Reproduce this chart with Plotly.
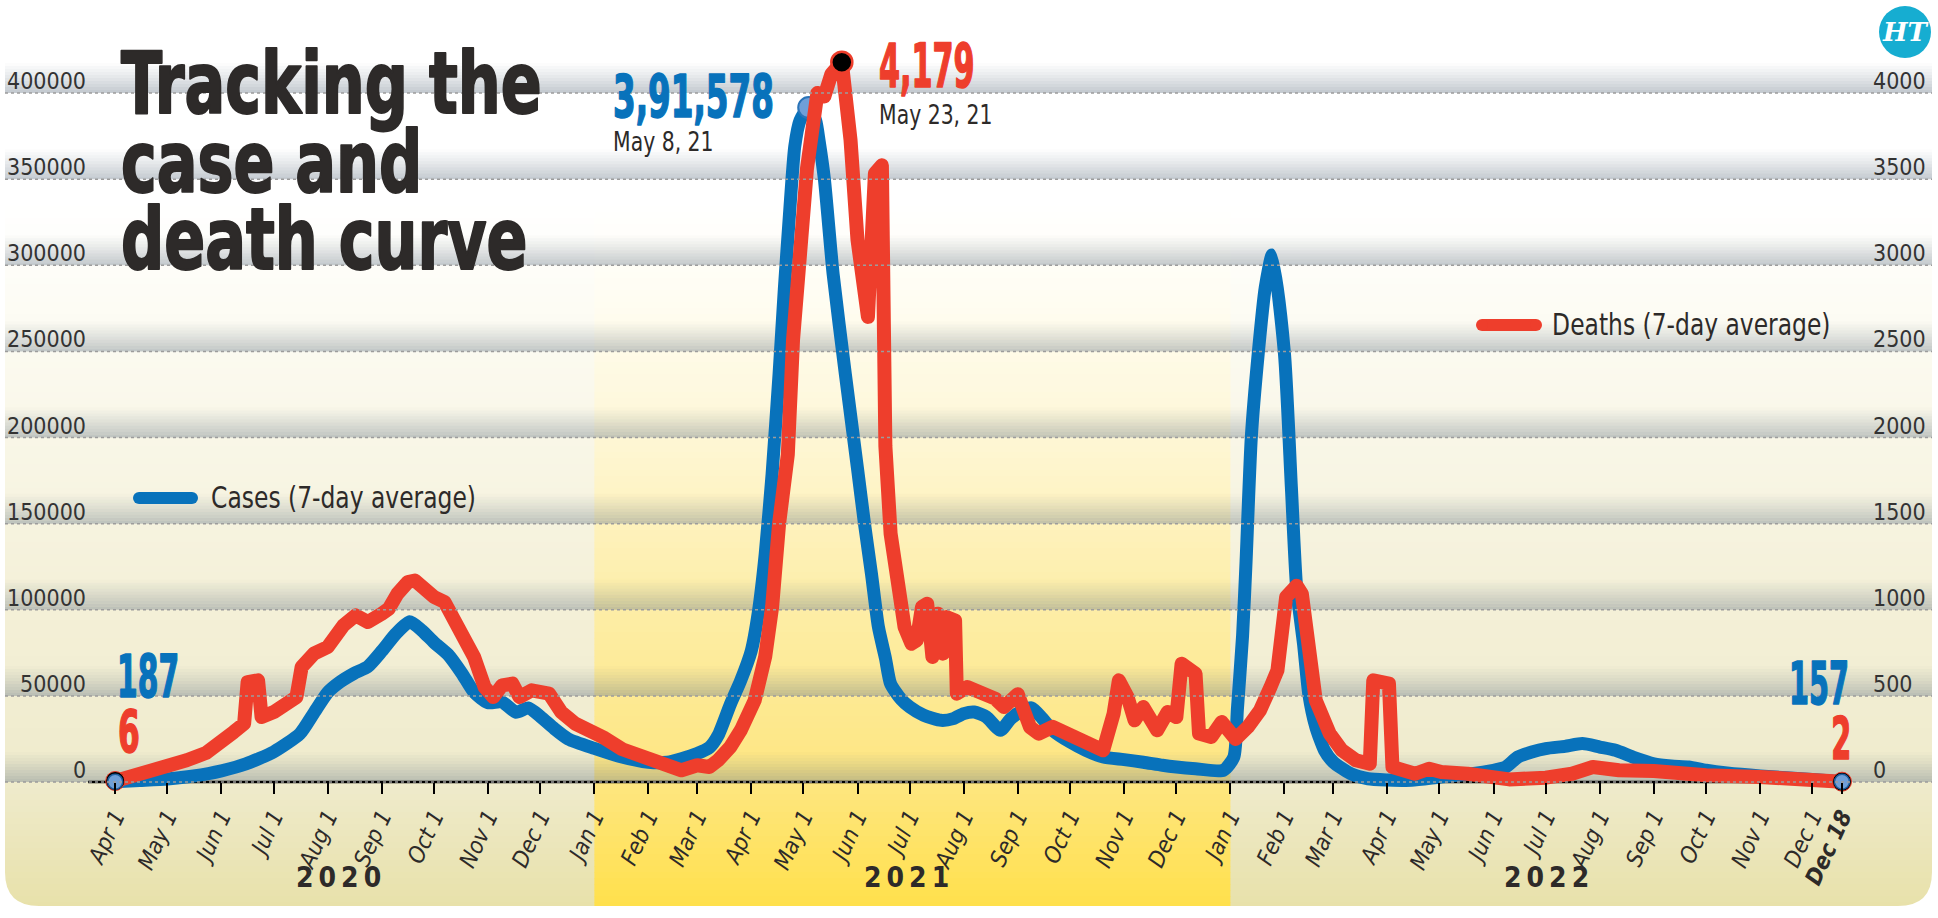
import json
import pandas as pd
import plotly.graph_objects as go

# ---------------- data ----------------
CASE_DATES = [
    "2020-04-01", "2020-04-15", "2020-05-01", "2020-05-16", "2020-06-01", "2020-06-15",
    "2020-07-01", "2020-07-16", "2020-07-24", "2020-08-01", "2020-08-08", "2020-08-16",
    "2020-08-24", "2020-09-01", "2020-09-09", "2020-09-17", "2020-09-24", "2020-10-01",
    "2020-10-09", "2020-10-17", "2020-10-24", "2020-11-01", "2020-11-09", "2020-11-17",
    "2020-11-24", "2020-12-01", "2020-12-09", "2020-12-17", "2021-01-01", "2021-01-15",
    "2021-02-01", "2021-02-12", "2021-02-20", "2021-03-01", "2021-03-08", "2021-03-13",
    "2021-03-20", "2021-03-26", "2021-04-01", "2021-04-05", "2021-04-09", "2021-04-13",
    "2021-04-17", "2021-04-20", "2021-04-23", "2021-04-26", "2021-04-29", "2021-05-04",
    "2021-05-08", "2021-05-10", "2021-05-13", "2021-05-18", "2021-05-25", "2021-06-01",
    "2021-06-05", "2021-06-09", "2021-06-13", "2021-06-17", "2021-06-20", "2021-06-26",
    "2021-07-01", "2021-07-09", "2021-07-19", "2021-07-26", "2021-08-01", "2021-08-07",
    "2021-08-14", "2021-08-22", "2021-08-28", "2021-09-04", "2021-09-09", "2021-09-15",
    "2021-09-21", "2021-10-01", "2021-10-10", "2021-10-20", "2021-11-01", "2021-11-12",
    "2021-11-23", "2021-12-01", "2021-12-12", "2021-12-28", "2022-01-03", "2022-01-05",
    "2022-01-08", "2022-01-10", "2022-01-13", "2022-01-17", "2022-01-21", "2022-01-25",
    "2022-02-01", "2022-02-05", "2022-02-08", "2022-02-12", "2022-02-15", "2022-02-19",
    "2022-02-24", "2022-03-01", "2022-03-11", "2022-03-21", "2022-04-01", "2022-04-15",
    "2022-05-01", "2022-05-17", "2022-06-01", "2022-06-08", "2022-06-15", "2022-06-23",
    "2022-07-01", "2022-07-12", "2022-07-22", "2022-08-01", "2022-08-10", "2022-08-20",
    "2022-09-01", "2022-09-11", "2022-09-21", "2022-10-01", "2022-10-13", "2022-11-01",
    "2022-12-01", "2022-12-18",
]
CASES = [
    187, 900, 1800, 3500, 6500, 10500,
    17500, 28000, 40000, 52000, 58000, 63000,
    67000, 76000, 86000, 93000, 88000, 81000,
    74000, 63000, 52000, 46000, 46500, 40500,
    43000, 38000, 31000, 25000, 19500, 15000,
    11500, 11500, 13500, 16500, 20000, 27000,
    45000, 59000, 76000, 98000, 132000, 179000,
    237000, 286000, 330000, 369000, 384000, 391578,
    384000, 372000, 350000, 295000, 237000, 182000,
    150000, 121000, 90000, 72000, 57000, 48000,
    43500, 38700, 35800, 36800, 39700, 40600,
    37700, 30000, 36800, 41600, 43000, 37000,
    30000, 23200, 18400, 14500, 13000, 11500,
    9700, 8700, 7700, 6800, 14500, 42000,
    85000, 128000, 200000, 249000, 287000, 306000,
    249000, 171000, 113000, 80000, 51000, 32000,
    18400, 11600, 4800, 1900, 1200, 1000,
    2800, 4500, 6800, 8700, 14500, 17400,
    19400, 20700, 22300, 20300, 18400, 14500,
    10600, 9300, 8700, 6800, 5200, 3500,
    1500, 157,
]

DEATH_DATES = [
    "2020-04-01", "2020-04-15", "2020-05-01", "2020-05-12", "2020-05-23", "2020-06-01",
    "2020-06-08", "2020-06-14", "2020-06-16", "2020-06-22", "2020-06-24", "2020-07-01",
    "2020-07-08", "2020-07-14", "2020-07-17", "2020-07-24", "2020-08-01", "2020-08-05",
    "2020-08-10", "2020-08-17", "2020-08-24", "2020-09-01", "2020-09-05", "2020-09-10",
    "2020-09-16", "2020-09-20", "2020-09-25", "2020-10-01", "2020-10-07", "2020-10-13",
    "2020-10-19", "2020-10-24", "2020-10-30", "2020-11-04", "2020-11-09", "2020-11-15",
    "2020-11-19", "2020-11-26", "2020-12-06", "2020-12-13", "2020-12-21", "2021-01-01",
    "2021-01-06", "2021-01-17", "2021-02-01", "2021-02-12", "2021-02-20", "2021-03-01",
    "2021-03-08", "2021-03-13", "2021-03-20", "2021-03-26", "2021-04-03", "2021-04-09",
    "2021-04-13", "2021-04-17", "2021-04-22", "2021-04-25", "2021-04-29", "2021-05-03",
    "2021-05-09", "2021-05-13", "2021-05-17", "2021-05-23", "2021-05-28", "2021-06-01",
    "2021-06-07", "2021-06-11", "2021-06-15", "2021-06-17", "2021-06-20", "2021-06-24",
    "2021-06-28", "2021-07-02", "2021-07-05", "2021-07-08", "2021-07-11", "2021-07-14",
    "2021-07-17", "2021-07-20", "2021-07-22", "2021-07-27", "2021-07-28", "2021-08-03",
    "2021-08-11", "2021-08-19", "2021-08-24", "2021-09-01", "2021-09-08", "2021-09-13",
    "2021-09-21", "2021-10-01", "2021-10-10", "2021-10-20", "2021-10-26", "2021-10-29",
    "2021-11-03", "2021-11-07", "2021-11-12", "2021-11-20", "2021-11-26", "2021-12-01",
    "2021-12-04", "2021-12-08", "2021-12-12", "2021-12-14", "2021-12-21", "2021-12-27",
    "2022-01-04", "2022-01-11", "2022-01-18", "2022-01-24", "2022-01-28", "2022-02-02",
    "2022-02-08", "2022-02-11", "2022-02-14", "2022-02-19", "2022-02-27", "2022-03-06",
    "2022-03-14", "2022-03-22", "2022-03-24", "2022-04-02", "2022-04-04", "2022-04-17",
    "2022-04-25", "2022-05-02", "2022-05-17", "2022-06-01", "2022-06-10", "2022-07-01",
    "2022-07-16", "2022-07-28", "2022-08-01", "2022-08-12", "2022-09-01", "2022-09-21",
    "2022-10-01", "2022-11-01", "2022-12-01", "2022-12-18",
]
DEATHS = [
    6, 45, 77, 126, 168, 226,
    290, 339, 580, 590, 377, 406,
    455, 493, 668, 745, 784, 842,
    909, 967, 929, 977, 1006, 1093,
    1161, 1170, 1122, 1074, 1045, 938,
    822, 725, 551, 493, 561, 571,
    493, 532, 513, 406, 339, 290,
    260, 190, 135, 77, 68, 97,
    87, 126, 203, 300, 474, 726,
    1016, 1500, 1900, 2566, 3147, 3560,
    4000, 3980, 4110, 4179, 3727, 3147,
    2700, 3534, 3580, 1950, 1442, 1171,
    900, 803, 822, 1016, 1035, 726,
    977, 745, 958, 938, 513, 551,
    513, 484, 435, 510, 319, 281,
    320, 271, 242, 184, 397, 590,
    493, 358, 435, 300, 406, 377,
    687, 648, 629, 281, 261, 348,
    250, 319, 416, 551, 648, 1074,
    1140, 1093, 803, 474, 281, 184,
    126, 106, 590, 571, 87, 48,
    77, 58, 48, 35, 15, 25,
    48, 87, 77, 68, 64, 39,
    39, 29, 10, 2,
]

CASE_TICKS = [0, 50000, 100000, 150000, 200000, 250000, 300000, 350000, 400000]
DEATH_TICKS = [0, 500, 1000, 1500, 2000, 2500, 3000, 3500, 4000]
MONTH_TICKS = list(pd.date_range("2020-04-01", "2022-12-01", freq="MS").strftime("%Y-%m-%d"))
MONTH_LABELS = [pd.Timestamp(d).strftime("%b") + " 1" for d in MONTH_TICKS]
LAST_TICK_LABEL = "<b>Dec 18</b>"
YEARS = ["2020", "2021", "2022"]
TITLE_LINES = ["Tracking the", "case and", "death curve"]
PEAK_DATE_LABELS = ["May 8, 21", "May 23, 21"]
LEGEND_CASES = "Cases (7-day average)"
LEGEND_DEATHS = "Deaths (7-day average)"

# ---------------- styling ----------------
W, H = 1938, 918
BLUE = "#0872bb"
LIGHT_BLUE = "#6f9fd8"
RED = "#ee3e2c"
INK = "#2d2a29"
COND = "DejaVu Sans Condensed, DejaVu Sans, sans-serif"
DESC = 0.236  # DejaVu descent (em)


def PX(x):
    return x / W


def PY(y):
    return 1 - y / H


def inr(n):
    s = str(int(n))
    if len(s) <= 3:
        return s
    last3, rest = s[-3:], s[:-3]
    groups = []
    while len(rest) > 2:
        groups.insert(0, rest[-2:])
        rest = rest[:-2]
    if rest:
        groups.insert(0, rest)
    return ",".join(groups) + "," + last3


def mix(stops, y):
    for (y0, c0), (y1, c1) in zip(stops, stops[1:]):
        if y <= y1:
            t = max(0.0, (y - y0) / (y1 - y0))
            return "rgb(%d,%d,%d)" % tuple(round(a + (b - a) * t) for a, b in zip(c0, c1))
    return "rgb(%d,%d,%d)" % stops[-1][1]


# axis geometry (pixels of the reference)
ZERO_PX, TOP_PX, TOP_VAL = 782, 93, 400000
PPV = (ZERO_PX - TOP_PX) / TOP_VAL
y_range = [-(H - ZERO_PX) / PPV, ZERO_PX / PPV]
d_first, d_last = pd.Timestamp(CASE_DATES[0]), pd.Timestamp(CASE_DATES[-1])
X_FIRST_PX, X_LAST_PX = 115.2, 1842.0
ppd = (X_LAST_PX - X_FIRST_PX) / (d_last - d_first).days
x_range = [
    (d_first - pd.Timedelta(days=X_FIRST_PX / ppd)).strftime("%Y-%m-%d %H:%M:%S"),
    (d_last + pd.Timedelta(days=(W - X_LAST_PX) / ppd)).strftime("%Y-%m-%d %H:%M:%S"),
]

fig = go.Figure()

# ---------------- traces ----------------
ci = CASES.index(max(CASES))
di = DEATHS.index(max(DEATHS))

fig.add_trace(go.Scatter(x=CASE_DATES, y=CASES, mode="lines",
                         line=dict(color=BLUE, width=13, shape="spline", smoothing=0.6),
                         hoverinfo="skip"))
fig.add_trace(go.Scatter(x=[CASE_DATES[ci]], y=[CASES[ci]], mode="markers",
                         marker=dict(size=21, color=LIGHT_BLUE, line=dict(color="#2a74b8", width=2)),
                         hoverinfo="skip"))
fig.add_trace(go.Scatter(x=DEATH_DATES, y=DEATHS, yaxis="y2", mode="lines",
                         line=dict(color=RED, width=14), hoverinfo="skip"))
fig.add_trace(go.Scatter(x=[DEATH_DATES[di]], y=[DEATHS[di]], yaxis="y2", mode="markers",
                         marker=dict(size=21, color="black", line=dict(color=RED, width=2.5)),
                         hoverinfo="skip"))
fig.add_trace(go.Scatter(x=[DEATH_DATES[0], DEATH_DATES[-1]], y=[DEATHS[0], DEATHS[-1]], yaxis="y2",
                         mode="markers", marker=dict(size=19, color="black", line=dict(color=RED, width=1)),
                         hoverinfo="skip"))
# cases end points on a third overlay (same scale as y) so they sit on top
fig.add_trace(go.Scatter(x=[CASE_DATES[0], CASE_DATES[-1]], y=[CASES[0], CASES[-1]], yaxis="y3",
                         mode="markers",
                         marker=dict(size=15, color=LIGHT_BLUE, line=dict(color="#1f5f9f", width=1.5)),
                         hoverinfo="skip"))

# ---------------- background shapes ----------------
shapes = []
BEIGE = [(200, (255, 255, 255)), (300, (253, 252, 245)), (430, (249, 247, 232)),
         (600, (244, 240, 216)), (782, (239, 235, 204)), (906, (232, 225, 170))]
YELLOW = [(200, (255, 255, 255)), (300, (255, 253, 242)), (430, (254, 247, 215)),
          (520, (254, 242, 190)), (600, (253, 238, 168)), (700, (253, 233, 146)),
          (782, (254, 230, 128)), (906, (255, 224, 76))]
STEP = 6
for y in range(200, 906, STEP):
    shapes.append(dict(type="rect", xref="paper", yref="paper", x0=PX(5), x1=PX(1932),
                       y0=PY(min(y + STEP + 0.6, 906)), y1=PY(y), fillcolor=mix(BEIGE, y + STEP / 2),
                       line=dict(width=0), layer="below"))
for y in range(200, 906, STEP):
    shapes.append(dict(type="rect", xref="x", yref="paper", x0="2021-01-01", x1="2022-01-01",
                       y0=PY(min(y + STEP + 0.6, 906)), y1=PY(y), fillcolor=mix(YELLOW, y + STEP / 2),
                       line=dict(width=0), layer="below"))

# rounded bottom corners of the panel
R = 34
bl = "M %f,%f L %f,%f L %f,%f L %f,%f Q %f,%f %f,%f Z" % (
    PX(0), PY(906 - R), PX(0), PY(918), PX(5 + R), PY(918), PX(5 + R), PY(906),
    PX(5), PY(906), PX(5), PY(906 - R))
br = "M %f,%f L %f,%f L %f,%f L %f,%f Q %f,%f %f,%f Z" % (
    PX(W), PY(906 - R), PX(W), PY(918), PX(1932 - R), PY(918), PX(1932 - R), PY(906),
    PX(1932), PY(906), PX(1932), PY(906 - R))
for p in (bl, br):
    shapes.append(dict(type="path", xref="paper", yref="paper", path=p,
                       fillcolor="white", line=dict(width=0), layer="below"))

# soft grey shading above every gridline
NB, BH = 10, 3
for t in CASE_TICKS:
    for i in range(NB):
        a = 0.40 * (1 - i / NB) ** 1.2
        shapes.append(dict(type="rect", xref="paper", yref="y", ysizemode="pixel", yanchor=t,
                           x0=PX(5), x1=PX(1932), y0=i * BH, y1=(i + 1) * BH,
                           fillcolor="rgba(110,126,140,%.3f)" % a, line=dict(width=0), layer="below"))

# x axis base line
shapes.append(dict(type="line", xref="x", yref="y",
                   x0=(d_first - pd.Timedelta(days=15.5)).strftime("%Y-%m-%d %H:%M"), x1=CASE_DATES[-1],
                   y0=0, y1=0, line=dict(color="black", width=2.5), layer="below"))

# dotted gridlines
for t in CASE_TICKS:
    shapes.append(dict(type="line", xref="paper", yref="y", x0=PX(5), x1=PX(1932), y0=t, y1=t,
                       line=dict(color="#9c9c9c", width=1.5, dash="dot"), layer="above"))


# legend samples
def legend_bar(x0, x1, yc, color):
    r = 6
    shapes.append(dict(type="rect", xref="paper", yref="paper", x0=PX(x0), x1=PX(x1),
                       y0=PY(yc + r), y1=PY(yc - r), fillcolor=color, line=dict(width=0), layer="above"))
    for xc in (x0, x1):
        shapes.append(dict(type="circle", xref="paper", yref="paper", x0=PX(xc - r), x1=PX(xc + r),
                           y0=PY(yc + r), y1=PY(yc - r), fillcolor=color, line=dict(width=0), layer="above"))


legend_bar(139, 192, 498, BLUE)
legend_bar(1482, 1536, 325, RED)

# HT logo
shapes.append(dict(type="circle", xref="paper", yref="paper", x0=PX(1879), x1=PX(1931),
                   y0=PY(58), y1=PY(6), fillcolor="#16add1", line=dict(width=0), layer="above"))

# ---------------- annotations ----------------
ann = []
squeeze = {}  # annotation index -> [horizontal scale, origin, extra stroke]


def text(x, baseline, s, size, color, anchor="left", bold=False, sx=None, stroke=0):
    ann.append(dict(xref="paper", yref="paper", x=PX(x), y=PY(baseline + DESC * size + 1),
                    xanchor=anchor, yanchor="bottom", showarrow=False,
                    text=("<b>%s</b>" % s) if bold else s,
                    font=dict(family=COND, size=size, color=color)))
    if sx:
        squeeze[str(len(ann) - 1)] = [sx, anchor, stroke]


for i, line in enumerate(TITLE_LINES):
    text(119, [114, 193, 270][i], line, 86, INK, bold=True, sx=0.78, stroke=2)

text(611, 118, inr(CASES[ci]), 58, BLUE, bold=True, sx=0.625, stroke=1.6)
text(611, 152, PEAK_DATE_LABELS[0], 27, INK, sx=0.84)
text(877, 88, inr(DEATHS[di]), 60, RED, bold=True, sx=0.56, stroke=1.6)
text(877, 125, PEAK_DATE_LABELS[1], 27, INK, sx=0.84)
text(115, 698, inr(CASES[0]), 58, BLUE, bold=True, sx=0.57, stroke=1.6)
text(116, 753, inr(DEATHS[0]), 58, RED, bold=True, sx=0.6, stroke=1.6)
text(1851, 705, inr(CASES[-1]), 58, BLUE, anchor="right", bold=True, sx=0.55, stroke=1.6)
text(1853, 760, inr(DEATHS[-1]), 58, RED, anchor="right", bold=True, sx=0.55, stroke=1.6)

# legends
text(209, 509, LEGEND_CASES, 31, INK, sx=0.84)
text(1550, 336, LEGEND_DEATHS, 31, INK, sx=0.84)

# y tick labels sitting just above their gridlines
for t in CASE_TICKS:
    ann.append(dict(xref="paper", yref="y", x=PX(88), y=t, xanchor="right", yanchor="bottom",
                    yshift=-3, showarrow=False, text=str(t),
                    font=dict(family=COND, size=23, color="#333333")))
for t in DEATH_TICKS:
    ann.append(dict(xref="paper", yref="y2", x=PX(1871), y=t, xanchor="left", yanchor="bottom",
                    yshift=-3, showarrow=False, text=str(t),
                    font=dict(family=COND, size=23, color="#333333")))

# year labels
for yr, xc in zip(YEARS, [338, 906, 1546]):
    ann.append(dict(xref="paper", yref="paper", x=PX(xc), y=PY(877), xanchor="center", yanchor="middle",
                    showarrow=False, text="<b>%s</b>" % "\u2009".join(yr),
                    font=dict(family=COND, size=28, color=INK)))

# HT logo text
ann.append(dict(xref="paper", yref="paper", x=PX(1905), y=PY(32), xanchor="center", yanchor="middle",
                showarrow=False, text="<b><i>HT</i></b>",
                font=dict(family="DejaVu Serif, serif", size=26, color="white")))

fig.update_layout(
    width=W, height=H, margin=dict(l=0, r=0, t=0, b=0),
    paper_bgcolor="white", plot_bgcolor="rgba(0,0,0,0)", showlegend=False,
    shapes=shapes, annotations=ann,
    xaxis=dict(type="date", range=x_range, tickmode="array",
               tickvals=MONTH_TICKS + [CASE_DATES[-1]], ticktext=MONTH_LABELS + [LAST_TICK_LABEL],
               tickangle=-65, ticks="outside", ticklen=11, tickwidth=2, tickcolor="black",
               showgrid=False, zeroline=False, showline=False,
               anchor="free", position=(H - ZERO_PX) / H,
               tickfont=dict(family=COND, size=23, color=INK, style="italic")),
    yaxis=dict(range=y_range, visible=False, showgrid=False, zeroline=False, fixedrange=True),
    yaxis2=dict(range=[v / 100 for v in y_range], overlaying="y", visible=False,
                showgrid=False, zeroline=False),
    yaxis3=dict(range=y_range, overlaying="y", visible=False, showgrid=False, zeroline=False),
)

POST = (
    "var s=document.createElement('style');"
    "s.textContent='body{margin:0;overflow:hidden} .js-line{stroke-linejoin:round !important;"
    "stroke-linecap:round !important}';document.head.appendChild(s);"
    "var SQ=" + json.dumps(squeeze) + ";"
    "document.querySelectorAll('g.annotation').forEach(function(g){"
    "var v=SQ[g.getAttribute('data-index')];if(!v)return;"
    "var t=g.querySelector('text');if(!t)return;"
    "t.style.transformBox='fill-box';t.style.transformOrigin=v[1]+' center';"
    "t.style.transform='scaleX('+v[0]+')';"
    "if(v[2]){t.style.stroke=t.style.fill||window.getComputedStyle(t).fill;"
    "t.style.strokeWidth=v[2]+'px';t.style.strokeLinejoin='round';}});"
)

fig.write_html("out.html", config={"displayModeBar": False}, post_script=POST)
